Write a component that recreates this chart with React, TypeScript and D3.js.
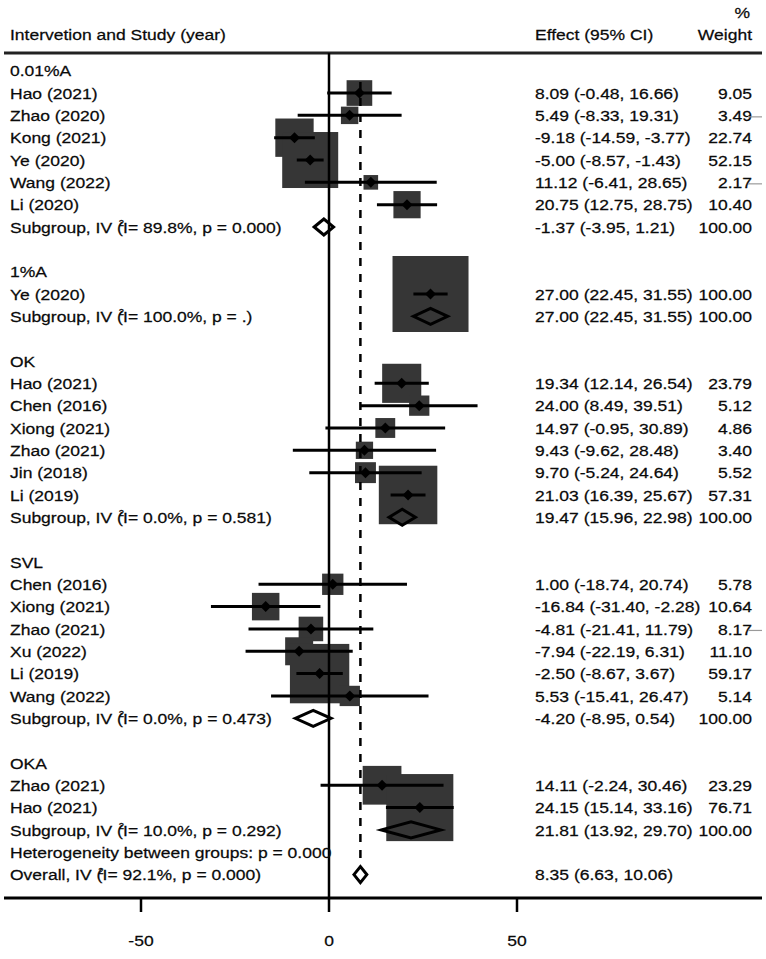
import React from "react";
import * as d3 from "d3";

// ---------- data ----------
const groupNames = ["0.01%A", "1%A", "OK", "SVL", "OKA"];
const studyNames = [
  ["Hao (2021)", "Zhao (2020)", "Kong (2021)", "Ye (2020)", "Wang (2022)", "Li (2020)"],
  ["Ye (2020)"],
  ["Hao (2021)", "Chen (2016)", "Xiong (2021)", "Zhao (2021)", "Jin (2018)", "Li (2019)"],
  ["Chen (2016)", "Xiong (2021)", "Zhao (2021)", "Xu (2022)", "Li (2019)", "Wang (2022)"],
  ["Zhao (2021)", "Hao (2021)"],
];
const studyEffect = [
  [8.09, 5.49, -9.18, -5.0, 11.12, 20.75],
  [27.0],
  [19.34, 24.0, 14.97, 9.43, 9.7, 21.03],
  [1.0, -16.84, -4.81, -7.94, -2.5, 5.53],
  [14.11, 24.15],
];
const studyLower = [
  [-0.48, -8.33, -14.59, -8.57, -6.41, 12.75],
  [22.45],
  [12.14, 8.49, -0.95, -9.62, -5.24, 16.39],
  [-18.74, -31.4, -21.41, -22.19, -8.67, -15.41],
  [-2.24, 15.14],
];
const studyUpper = [
  [16.66, 19.31, -3.77, -1.43, 28.65, 28.75],
  [31.55],
  [26.54, 39.51, 30.89, 28.48, 24.64, 25.67],
  [20.74, -2.28, 11.79, 6.31, 3.67, 26.47],
  [30.46, 33.16],
];
const studyWeight = [
  [9.05, 3.49, 22.74, 52.15, 2.17, 10.4],
  [100.0],
  [23.79, 5.12, 4.86, 3.4, 5.52, 57.31],
  [5.78, 10.64, 8.17, 11.1, 59.17, 5.14],
  [23.29, 76.71],
];
const subgroupEffect = [-1.37, 27.0, 19.47, -4.2, 21.81];
const subgroupLower = [-3.95, 22.45, 15.96, -8.95, 13.92];
const subgroupUpper = [1.21, 31.55, 22.98, 0.54, 29.7];
const subgroupI2 = ["89.8%", "100.0%", "0.0%", "0.0%", "10.0%"];
const subgroupP = ["0.000", ".", "0.581", "0.473", "0.292"];
const overallEffect = 8.35;
const overallLower = 6.63;
const overallUpper = 10.06;
const overallI2 = "92.1%";
const overallP = "0.000";
const betweenP = "0.000";
const xTicks = [-50, 0, 50];
// study rows followed by a faint grey stroke in the source picture
const faintMarks = [
  [0, 1],
  [0, 4],
  [3, 2],
];

// ---------- layout ----------
const W = 766;
const H = 959;
const FONT = "'Liberation Sans', Arial, Helvetica, sans-serif";
const FS = 15.5;
const SX = 1.13;
const BOX_FILL = "#363636";

type Row =
  | { kind: "group"; label: string }
  | { kind: "study"; g: number; s: number }
  | { kind: "sub"; g: number }
  | { kind: "blank" }
  | { kind: "het" }
  | { kind: "overall" };

const rows: Row[] = [];
groupNames.forEach((name, g) => {
  rows.push({ kind: "group", label: name });
  studyNames[g].forEach((_, s) => rows.push({ kind: "study", g, s }));
  rows.push({ kind: "sub", g });
  if (g < groupNames.length - 1) rows.push({ kind: "blank" });
});
rows.push({ kind: "het" });
rows.push({ kind: "overall" });

const x = d3.scaleLinear().domain([-50, 50]).range([141, 517]);
const y = d3
  .scaleLinear()
  .domain([0, rows.length - 1])
  .range([70.7, 70.7 + (rows.length - 1) * 22.33]);
const boxSide = d3.scaleSqrt().domain([0, 100]).range([0, 72]);
const locale = d3.formatLocale({ decimal: ".", thousands: ",", grouping: [3], currency: ["", ""], minus: "-" });
const f2 = locale.format(".2f");

const LEFT_X = 10;
const EFFECT_X = 535;
const WEIGHT_X = 752;
const LINE_L = 4;
const LINE_R = 762;
const HEADER_Y = 53;
const AXIS_Y = 898;
const DIAMOND_H = 8;

function Txt({
  x0,
  y0,
  anchor = "start",
  children,
}: {
  x0: number;
  y0: number;
  anchor?: "start" | "end" | "middle";
  children: React.ReactNode;
}) {
  return (
    <text
      transform={`translate(${x0},${y0}) scale(${SX},1)`}
      textAnchor={anchor}
      dy="0.36em"
      fontFamily={FONT}
      fontSize={FS}
      fill="#0a0a0a"
      stroke="#0a0a0a"
      strokeWidth={0.25}
    >
      {children}
    </text>
  );
}

function I2Label({ prefix, i2, p }: { prefix: string; i2: string; p: string }) {
  return (
    <>
      {prefix + " ("}
      <tspan fontSize={8.5} dx={-3.5} dy={-6.5}>
        2
      </tspan>
      <tspan dx={-1} dy={6.5}>
        {`I= ${i2}, p = ${p})`}
      </tspan>
    </>
  );
}

function diamondPath(lo: number, est: number, hi: number, cy: number, h: number) {
  return `M${x(lo)},${cy} L${x(est)},${cy - h} L${x(hi)},${cy} L${x(est)},${cy + h} Z`;
}

export default function App() {
  const overallRow = rows.length - 1;
  const firstStudyRow = 1;

  const studyRowIndex = (g: number, s: number) =>
    rows.findIndex((r) => r.kind === "study" && r.g === g && r.s === s);

  return (
    <div style={{ position: "absolute", left: 0, top: 0, width: W, height: H, background: "#fff" }}>
      <svg width={W} height={H} viewBox={`0 0 ${W} ${H}`} style={{ display: "block" }}>
        <rect x={0} y={0} width={W} height={H} fill="#fff" />

        {/* header */}
        <Txt x0={LEFT_X} y0={34}>Intervetion and Study (year)</Txt>
        <Txt x0={EFFECT_X} y0={34}>Effect (95% CI)</Txt>
        <Txt x0={WEIGHT_X - 2} y0={12} anchor="end">%</Txt>
        <Txt x0={WEIGHT_X} y0={34} anchor="end">Weight</Txt>
        <line x1={LINE_L} x2={LINE_R} y1={HEADER_Y} y2={HEADER_Y} stroke="#222" strokeWidth={3} />

        {/* boxes */}
        {rows.map((r, i) => {
          if (r.kind !== "study") return null;
          const side = boxSide(studyWeight[r.g][r.s]) + 4;
          const cx = x(studyEffect[r.g][r.s]);
          return (
            <rect
              key={"b" + i}
              x={cx - side / 2}
              y={y(i) - side / 2}
              width={side}
              height={side}
              fill={BOX_FILL}
            />
          );
        })}

        {/* null line and overall line */}
        <line x1={x(0)} x2={x(0)} y1={HEADER_Y} y2={AXIS_Y} stroke="#000" strokeWidth={2.5} />
        <line
          x1={x(overallEffect)}
          x2={x(overallEffect)}
          y1={y(firstStudyRow) - 11}
          y2={y(overallRow) - DIAMOND_H}
          stroke="#000"
          strokeWidth={2.5}
          strokeDasharray="8,8"
        />

        {/* CIs and point estimates */}
        {rows.map((r, i) => {
          if (r.kind !== "study") return null;
          const cy = y(i);
          const cx = x(studyEffect[r.g][r.s]);
          return (
            <g key={"c" + i}>
              <line
                x1={x(studyLower[r.g][r.s])}
                x2={x(studyUpper[r.g][r.s])}
                y1={cy}
                y2={cy}
                stroke="#000"
                strokeWidth={3}
              />
              <path
                d={`M${cx - 5.5},${cy} L${cx},${cy - 5.5} L${cx + 5.5},${cy} L${cx},${cy + 5.5} Z`}
                fill="#000"
              />
            </g>
          );
        })}

        {/* subgroup diamonds */}
        {rows.map((r, i) => {
          if (r.kind !== "sub") return null;
          return (
            <path
              key={"d" + i}
              d={diamondPath(subgroupLower[r.g], subgroupEffect[r.g], subgroupUpper[r.g], y(i), DIAMOND_H)}
              fill="none"
              stroke="#000"
              strokeWidth={3}
            />
          );
        })}
        <path
          d={diamondPath(overallLower, overallEffect, overallUpper, y(overallRow), DIAMOND_H)}
          fill="none"
          stroke="#000"
          strokeWidth={3}
        />

        {/* texts */}
        {rows.map((r, i) => {
          const cy = y(i);
          if (r.kind === "group")
            return (
              <Txt key={"t" + i} x0={LEFT_X} y0={cy}>
                {r.label}
              </Txt>
            );
          if (r.kind === "study")
            return (
              <g key={"t" + i}>
                <Txt x0={LEFT_X} y0={cy}>{studyNames[r.g][r.s]}</Txt>
                <Txt x0={EFFECT_X} y0={cy}>
                  {`${f2(studyEffect[r.g][r.s])} (${f2(studyLower[r.g][r.s])}, ${f2(studyUpper[r.g][r.s])})`}
                </Txt>
                <Txt x0={WEIGHT_X} y0={cy} anchor="end">
                  {f2(studyWeight[r.g][r.s])}
                </Txt>
              </g>
            );
          if (r.kind === "sub")
            return (
              <g key={"t" + i}>
                <Txt x0={LEFT_X} y0={cy}>
                  <I2Label prefix="Subgroup, IV" i2={subgroupI2[r.g]} p={subgroupP[r.g]} />
                </Txt>
                <Txt x0={EFFECT_X} y0={cy}>
                  {`${f2(subgroupEffect[r.g])} (${f2(subgroupLower[r.g])}, ${f2(subgroupUpper[r.g])})`}
                </Txt>
                <Txt x0={WEIGHT_X} y0={cy} anchor="end">
                  {f2(100)}
                </Txt>
              </g>
            );
          if (r.kind === "het")
            return (
              <Txt key={"t" + i} x0={LEFT_X} y0={cy}>
                {`Heterogeneity between groups: p = ${betweenP}`}
              </Txt>
            );
          if (r.kind === "overall")
            return (
              <g key={"t" + i}>
                <Txt x0={LEFT_X} y0={cy}>
                  <I2Label prefix="Overall, IV" i2={overallI2} p={overallP} />
                </Txt>
                <Txt x0={EFFECT_X} y0={cy}>
                  {`${f2(overallEffect)} (${f2(overallLower)}, ${f2(overallUpper)})`}
                </Txt>
              </g>
            );
          return null;
        })}

        {/* faint grey strokes next to some weights */}
        {faintMarks.map(([g, s], k) => {
          const cy = y(studyRowIndex(g, s)) + 1.5;
          return (
            <line key={"f" + k} x1={WEIGHT_X - 4} x2={LINE_R} y1={cy} y2={cy} stroke="#9a9a9a" strokeWidth={1.2} />
          );
        })}

        {/* x axis */}
        <line x1={LINE_L} x2={LINE_R} y1={AXIS_Y} y2={AXIS_Y} stroke="#000" strokeWidth={3} />
        {xTicks.map((t) => (
          <g key={"x" + t}>
            <line x1={x(t)} x2={x(t)} y1={AXIS_Y} y2={AXIS_Y + 14} stroke="#000" strokeWidth={2.5} />
            <Txt x0={x(t)} y0={940} anchor="middle">
              {f2(t).replace(".00", "")}
            </Txt>
          </g>
        ))}
      </svg>
    </div>
  );
}
